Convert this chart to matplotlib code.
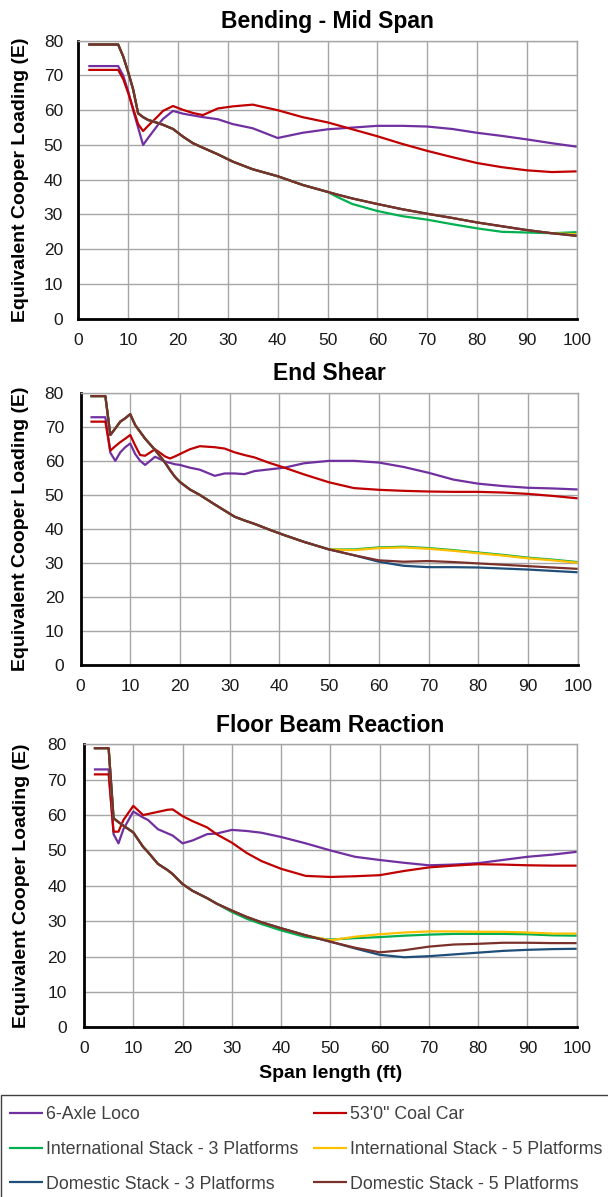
import matplotlib
matplotlib.use("Agg")
import matplotlib.pyplot as plt
from matplotlib.patches import Rectangle

plt.rcParams['font.family'] = ['Liberation Sans', 'DejaVu Sans']

series_names = ["6-Axle Loco", "53'0\" Coal Car", "International Stack - 3 Platforms",
                "International Stack - 5 Platforms", "Domestic Stack - 3 Platforms",
                "Domestic Stack - 5 Platforms"]
series_colors = ["#7030A0", "#C00000", "#00B050", "#FFC000", "#1F4E79", "#7A302B"]

# ---------------- Bending - Mid Span ----------------
bend_span = [2, 8, 9, 10, 11, 12, 13, 14, 16, 17, 19, 21, 23, 25, 28, 31, 35, 40, 45, 50,
             52, 55, 60, 65, 70, 75, 80, 85, 90, 95, 100]
bend_loco = [72.7, 72.7, 70, 65.5, 60, 55, 50, 52, 55.8, 57.5, 59.8, 59, 58.5, 58, 57.4, 56, 54.8, 52, 53.5, 54.5,
             54.7, 55, 55.5, 55.5, 55.3, 54.6, 53.5, 52.6, 51.6, 50.5, 49.5]
bend_coal = [71.6, 71.6, 69, 65, 60.5, 56, 54, 55.5, 58.3, 59.8, 61.2, 60.1, 59.2, 58.6, 60.5, 61.1, 61.6, 60, 58, 56.5,
             55.7, 54.5, 52.5, 50.3, 48.3, 46.5, 44.8, 43.6, 42.7, 42.2, 42.4]
bend_int3 = [78.9, 78.9, 75.5, 71, 66, 59.1, 58, 57.2, 56.3, 55.8, 54.6, 52.4, 50.5, 49.2, 47.3, 45.2, 43, 41, 38.5, 36.5,
             35, 33, 31, 29.5, 28.5, 27.2, 26, 25, 24.8, 24.6, 24.9]
bend_int5 = [78.9, 78.9, 75.5, 71, 66, 59.1, 58, 57.2, 56.3, 55.8, 54.6, 52.4, 50.5, 49.2, 47.3, 45.2, 43, 41, 38.5, 36.5,
             35.7, 34.6, 33, 31.5, 30.2, 29, 27.7, 26.6, 25.5, 24.6, 24.3]
bend_dom3 = [78.9, 78.9, 75.5, 71, 66, 59.1, 58, 57.2, 56.3, 55.8, 54.6, 52.4, 50.5, 49.2, 47.3, 45.2, 43, 41, 38.5, 36.5,
             35.7, 34.6, 33, 31.5, 30.2, 29, 27.7, 26.6, 25.5, 24.6, 23.9]
bend_dom5 = [78.9, 78.9, 75.5, 71, 66, 59.1, 58, 57.2, 56.3, 55.8, 54.6, 52.4, 50.5, 49.2, 47.3, 45.2, 43, 41, 38.5, 36.5,
             35.7, 34.6, 33, 31.5, 30.2, 29, 27.7, 26.6, 25.5, 24.6, 23.8]

# ---------------- End Shear ----------------
shear_span = [2, 5, 6, 7, 8, 9, 10, 11, 12, 13, 15, 17, 18, 19, 20, 22, 24, 27, 29, 31, 33, 35, 38, 41, 45, 50,
              55, 60, 65, 70, 75, 80, 85, 90, 95, 100]
shear_loco = [72.8, 72.8, 62.4, 60, 62.5, 64, 65.1, 62, 60, 58.8, 61.2, 59.8, 59.4, 59, 58.8, 58, 57.4, 55.6, 56.3,
              56.3, 56.1, 57, 57.5, 58, 59.3, 60, 60, 59.5, 58.2, 56.5, 54.5, 53.3, 52.6, 52.1, 51.9, 51.6]
shear_coal = [71.5, 71.5, 63, 64.3, 65.5, 66.5, 67.6, 64.5, 61.7, 61.5, 63.4, 61.3, 60.7, 61.3, 62, 63.4, 64.3, 64,
              63.6, 62.5, 61.7, 61, 59.4, 58, 56, 53.7, 52, 51.5, 51.2, 51, 50.9, 50.9, 50.7, 50.3, 49.7, 49]
shear_int3 = [79, 79, 67.6, 69.5, 71.5, 72.5, 73.7, 70.5, 68.5, 66.5, 63.2, 59.5, 57.3, 55.3, 53.8, 51.6, 50, 47.2,
              45.4, 43.6, 42.5, 41.5, 39.8, 38.2, 36.2, 34, 34, 34.6, 34.8, 34.4, 33.8, 33.1, 32.4, 31.6, 31, 30.3]
shear_int5 = [79, 79, 67.6, 69.5, 71.5, 72.5, 73.7, 70.5, 68.5, 66.5, 63.2, 59.5, 57.3, 55.3, 53.8, 51.6, 50, 47.2,
              45.4, 43.6, 42.5, 41.5, 39.8, 38.2, 36.2, 34, 33.8, 34.4, 34.6, 34.2, 33.6, 32.9, 32.2, 31.4, 30.8, 30.1]
shear_dom3 = [79, 79, 67.6, 69.5, 71.5, 72.5, 73.7, 70.5, 68.5, 66.5, 63.2, 59.5, 57.3, 55.3, 53.8, 51.6, 50, 47.2,
              45.4, 43.6, 42.5, 41.5, 39.8, 38.2, 36.2, 34, 32.3, 30.4, 29.2, 28.8, 28.8, 28.7, 28.4, 28.1, 27.7, 27.3]
shear_dom5 = [79, 79, 67.6, 69.5, 71.5, 72.5, 73.7, 70.5, 68.5, 66.5, 63.2, 59.5, 57.3, 55.3, 53.8, 51.6, 50, 47.2,
              45.4, 43.6, 42.5, 41.5, 39.8, 38.2, 36.2, 34, 32.3, 30.8, 30.4, 30.6, 30.3, 29.9, 29.5, 29.1, 28.7, 28.3]

# ---------------- Floor Beam Reaction ----------------
floor_span = [2, 5, 6, 7, 8, 10, 12, 13, 15, 17, 18, 20, 22, 25, 27, 30, 33, 36, 40, 45, 50, 55, 60, 65, 70,
              75, 80, 85, 90, 95, 100]
floor_loco = [72.9, 72.9, 54.6, 52, 56, 61, 59.3, 58.6, 56, 54.8, 54.2, 52, 52.8, 54.6, 54.8, 55.8, 55.5, 55, 53.8,
              52, 50, 48.2, 47.3, 46.5, 45.8, 46, 46.4, 47.3, 48.2, 48.8, 49.6]
floor_coal = [71.5, 71.5, 55.3, 55.3, 58.6, 62.6, 60, 60.3, 60.9, 61.5, 61.6, 59.7, 58.3, 56.5, 54.5, 52.2, 49.3,
              47, 44.8, 42.8, 42.5, 42.7, 43, 44.2, 45.2, 45.7, 46.1, 46, 45.8, 45.7, 45.7]
floor_int3 = [78.9, 78.9, 59.1, 58, 57, 55.1, 51, 49.5, 46.2, 44.4, 43.3, 40.5, 38.6, 36.5, 34.9, 32.6, 30.7, 29.2,
              27.4, 25.5, 24.8, 25.2, 25.5, 25.9, 26.2, 26.4, 26.4, 26.4, 26.3, 26, 25.9]
floor_int5 = [78.9, 78.9, 59.1, 58, 57, 55.1, 51, 49.5, 46.2, 44.4, 43.3, 40.5, 38.6, 36.5, 34.9, 33, 31.2, 29.7,
              28, 26, 24.6, 25.6, 26.3, 26.8, 27.1, 27.1, 27, 27, 26.8, 26.5, 26.5]
floor_dom3 = [78.9, 78.9, 59.1, 58, 57, 55.1, 51, 49.5, 46.2, 44.4, 43.3, 40.5, 38.6, 36.5, 34.9, 33, 31.2, 29.7,
              28, 26, 24.2, 22.3, 20.5, 19.8, 20.1, 20.6, 21.1, 21.6, 21.9, 22.1, 22.2]
floor_dom5 = [78.9, 78.9, 59.1, 58, 57, 55.1, 51, 49.5, 46.2, 44.4, 43.3, 40.5, 38.6, 36.5, 34.9, 33, 31.2, 29.7,
              28, 26, 24.2, 22.5, 21.2, 21.8, 22.8, 23.4, 23.6, 23.9, 23.9, 23.8, 23.8]

panel_titles = ["Bending - Mid Span", "End Shear", "Floor Beam Reaction"]
panel_data = [
    (bend_span, [bend_loco, bend_coal, bend_int3, bend_int5, bend_dom3, bend_dom5]),
    (shear_span, [shear_loco, shear_coal, shear_int3, shear_int5, shear_dom3, shear_dom5]),
    (floor_span, [floor_loco, floor_coal, floor_int3, floor_int5, floor_dom3, floor_dom5]),
]
x_ticks = list(range(0, 101, 10))
y_ticks = list(range(0, 81, 10))
y_label = "Equivalent Cooper Loading (E)"
x_label = "Span length (ft)"

W, H = 608, 1197
fig = plt.figure(figsize=(W / 100, H / 100), dpi=100)

# axes boxes in pixels: (left, right, top, bottom)
boxes = [(78.3, 576.7, 40.7, 318.7), (80.5, 577.7, 392.7, 665.3), (84.0, 576.7, 744.3, 1027.3)]
ypads = [11, 11.9, 12.5]

axes = []
for i, ((l, r, t, b), title) in enumerate(zip(boxes, panel_titles)):
    ax = fig.add_axes([l / W, 1 - b / H, (r - l) / W, (b - t) / H])
    span, vals = panel_data[i]
    for v, c, n in zip(vals, series_colors, series_names):
        ax.plot(span, v, color=c, lw=1.6, label=n, solid_capstyle='butt')
    ax.set_xlim(0, 100)
    ax.set_ylim(0, 80)
    ax.set_xticks(x_ticks)
    ax.set_yticks(y_ticks)
    ax.grid(True, color='#a6a6a6', lw=1.0)
    ax.set_axisbelow(True)
    for s in ['top', 'right']:
        ax.spines[s].set_color('#a6a6a6')
        ax.spines[s].set_linewidth(1.0)
    for s in ['left', 'bottom']:
        ax.spines[s].set_color('black')
        ax.spines[s].set_linewidth(2.0)
    ax.tick_params(axis='both', length=0, labelsize=12.5, labelcolor='#1a1a1a')
    ax.tick_params(axis='y', pad=ypads[i])
    ax.tick_params(axis='x', pad=10)
    ax.set_title(title, fontsize=16.5, fontweight='bold', pad=9)
    ax.set_ylabel(y_label, fontsize=14, fontweight='bold', va='center')
    ax.yaxis.set_label_coords((21 - l) / (r - l), 0.5)
    axes.append(ax)

ax3 = axes[2]
ax3.set_xlabel(x_label, fontsize=14, fontweight='bold', va='center')
l, r, t, b = boxes[2]
ax3.xaxis.set_label_coords(0.5, -(1073 - b) / (b - t))

# legend frame
fig.add_artist(Rectangle((1 / W, -0.1), 2.0, 1 - 1095 / H + 0.1, transform=fig.transFigure,
                         fill=False, edgecolor='#404040', lw=1.0))

handles, labels = axes[0].get_legend_handles_labels()
order = [0, 2, 4, 1, 3, 5]
leg = fig.legend([handles[k] for k in order], [labels[k] for k in order], ncol=2,
                 loc='upper left', bbox_to_anchor=(9 / W, 1 - 1106 / H), frameon=False,
                 fontsize=12.8, handlelength=1.9, handletextpad=0.2, columnspacing=0.8,
                 labelspacing=1.0, borderpad=0, borderaxespad=0)
for txt in leg.get_texts():
    txt.set_color('#404040')

fig.savefig("out.png", dpi=100)
